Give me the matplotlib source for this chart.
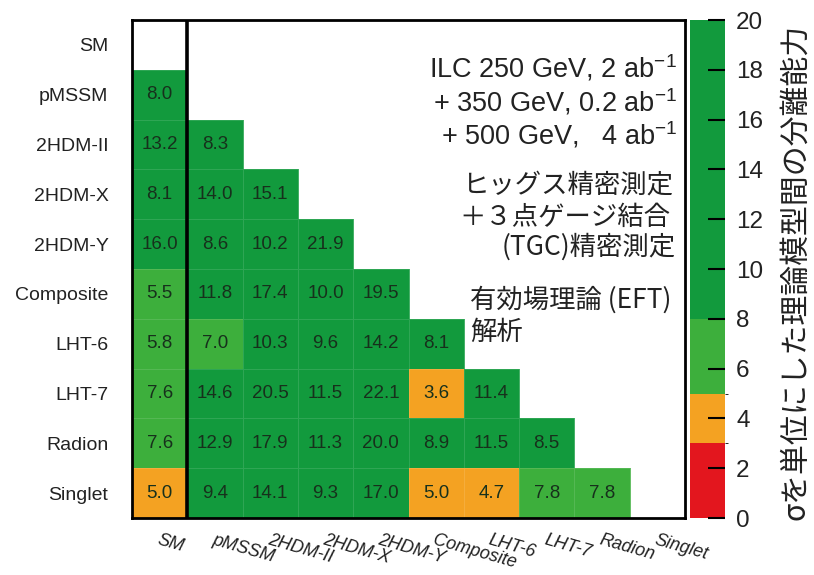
import numpy as np
import matplotlib.pyplot as plt
from matplotlib.colors import ListedColormap, BoundaryNorm
from matplotlib.cm import ScalarMappable

plt.rcParams['font.family'] = ['Liberation Sans', 'Noto Sans CJK JP', 'DejaVu Sans']
plt.rcParams['mathtext.fontset'] = 'custom'
plt.rcParams['mathtext.rm'] = 'Liberation Sans'

models = ['SM', 'pMSSM', '2HDM-II', '2HDM-X', '2HDM-Y',
          'Composite', 'LHT-6', 'LHT-7', 'Radion', 'Singlet']

# separation (in sigma) of each row model from the models before it
sep_SM = []
sep_pMSSM = [8.0]
sep_2HDM_II = [13.2, 8.3]
sep_2HDM_X = [8.1, 14.0, 15.1]
sep_2HDM_Y = [16.0, 8.6, 10.2, 21.9]
sep_Composite = [5.5, 11.8, 17.4, 10.0, 19.5]
sep_LHT6 = [5.8, 7.0, 10.3, 9.6, 14.2, 8.1]
sep_LHT7 = [7.6, 14.6, 20.5, 11.5, 22.1, 3.6, 11.4]
sep_Radion = [7.6, 12.9, 17.9, 11.3, 20.0, 8.9, 11.5, 8.5]
sep_Singlet = [5.0, 9.4, 14.1, 9.3, 17.0, 5.0, 4.7, 7.8, 7.8]

rows = [sep_SM, sep_pMSSM, sep_2HDM_II, sep_2HDM_X, sep_2HDM_Y,
        sep_Composite, sep_LHT6, sep_LHT7, sep_Radion, sep_Singlet]

n = len(models)
Z = np.full((n, n), np.nan)
for i, r in enumerate(rows):
    Z[i, :len(r)] = r

colors = ['#e3161e', '#f4a222', '#3daf3c', '#129a3d']
cmap = ListedColormap(colors)
# 5.0 counts as orange, 8.0 as dark green
norm_cells = BoundaryNorm([0, 3, 5.01, 8, 30], cmap.N)
norm_bar = BoundaryNorm([0, 3, 5, 8, 20], cmap.N)

fig = plt.figure(figsize=(8.14, 5.75), dpi=100)
ax = fig.add_axes([0.1622, 0.0991, 0.6793, 0.8661])

ax.pcolormesh(np.arange(n + 1), np.arange(n + 1), np.ma.masked_invalid(Z),
              cmap=cmap, norm=norm_cells,
              edgecolors=(1, 1, 1, 0.12), linewidth=0.6)
ax.set_xlim(0, n)
ax.set_ylim(n, 0)

for i in range(n):
    for j in range(n):
        if not np.isnan(Z[i, j]):
            ax.text(j + 0.5, i + 0.5, '%.1f' % Z[i, j], ha='center', va='center',
                    fontsize=13.5, color='#17301c')

ax.axvline(1, color='k', lw=2.6)
for s in ax.spines.values():
    s.set_linewidth(2)

ax.set_yticks(np.arange(n) + 0.5)
ax.set_yticklabels(models, fontsize=14, color='#222222')
ax.set_xticks(np.arange(n) + 0.5)
ax.set_xticklabels(models, fontsize=13, rotation=-16, ha='left',
                   rotation_mode='anchor', style='italic', color='#222222')
ax.tick_params(axis='y', length=0, pad=17)
ax.tick_params(axis='x', length=0, pad=10)

# run conditions and analysis
txt = dict(fontsize=19.5, color='#222222')
ax.text(9.86, 0.97, 'ILC 250 GeV, 2 ab$^{-1}$', ha='right', va='center', **txt)
ax.text(9.86, 1.65, '+ 350 GeV, 0.2 ab$^{-1}$', ha='right', va='center', **txt)
ax.text(9.86, 2.31, '+ 500 GeV,   4 ab$^{-1}$', ha='right', va='center', **txt)
jp = dict(fontsize=19, color='#222222', family=['Noto Sans CJK JP', 'DejaVu Sans'])
ax.text(9.78, 3.31, 'ヒッグス精密測定', ha='right', va='center', **jp)
ax.text(9.74, 3.96, '＋３点ゲージ結合', ha='right', va='center', **jp)
ax.text(8.25, 4.56, '(TGC)精密測定', ha='center', va='center', **jp)
ax.text(6.11, 5.62, '有効場理論 (EFT)', ha='left', va='center', **jp)
ax.text(6.11, 6.27, '解析', ha='left', va='center', **jp)

cax = fig.add_axes([0.8477, 0.0991, 0.043, 0.8661])
cb = fig.colorbar(ScalarMappable(norm=norm_bar, cmap=cmap), cax=cax,
                  ticks=np.arange(0, 21, 2), spacing='proportional')
cb.outline.set_visible(False)
cax.tick_params(direction='in', length=12, width=1.5, pad=8,
                labelsize=17.5, labelcolor='#222222', color='k')
fig.text(0.977, 0.527, 'σを単位にした理論模型間の分離能力', rotation=90,
         ha='center', va='center', fontsize=21.5, color='#222222',
         family=['Noto Sans CJK JP', 'DejaVu Sans'])

fig.savefig('out.png', dpi=100)
